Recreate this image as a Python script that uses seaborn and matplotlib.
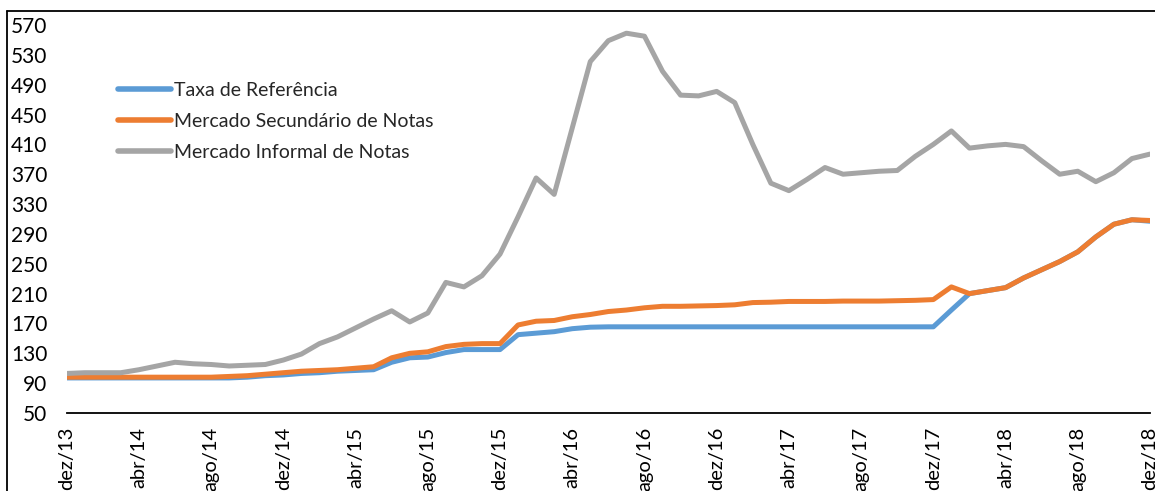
import numpy as np
import pandas as pd
import matplotlib
matplotlib.use("Agg")
import matplotlib.pyplot as plt
import seaborn as sns
from matplotlib.lines import Line2D

# ---- data (monthly, dez/13 .. dez/18) ----
months_pt = ["jan", "fev", "mar", "abr", "mai", "jun", "jul", "ago", "set", "out", "nov", "dez"]
periods = [f"{months_pt[(11 + i) % 12]}/{13 + (11 + i) // 12}" for i in range(61)]

taxa_referencia = [97, 97, 97, 97, 97, 97, 97, 97, 97, 97,
                   98, 100, 101, 103, 104, 106, 107, 108, 118, 124,
                   125, 131, 135, 135, 135, 155, 157, 159, 163, 165,
                   165.5, 165.5, 165.5, 165.5, 165.5, 165.5, 165.5, 165.5, 165.5, 165.5,
                   165.5, 165.5, 165.5, 165.5, 165.5, 165.5, 165.5, 165.5, 165.5, 188,
                   210, 214, 218, 231, 242, 253, 266, 286, 303, 309, 307]

mercado_secundario = [98, 98, 98, 98, 98, 98, 98, 98, 98, 99,
                      100, 102, 104, 106, 107, 108, 110, 112, 124, 130,
                      132, 139, 142, 143, 143, 168, 173, 174, 179, 182,
                      186, 188, 191, 193, 193, 193.5, 194, 195, 198, 198.5,
                      199.5, 199.5, 199.5, 200, 200, 200, 200.5, 201, 202, 219,
                      210, 214, 218, 231, 242, 253, 266, 286, 303, 309, 308]

mercado_informal = [103, 104, 104, 104, 108, 113, 118, 116, 115, 113,
                    114, 115, 121, 129, 143, 152, 164, 176, 187, 172,
                    184, 225, 219, 234, 263, 313, 365, 343, 432, 521,
                    549, 559, 555, 508, 476, 475, 481, 466, 410, 358,
                    348, 363, 379, 370, 372, 374, 375, 394, 410, 428,
                    405, 408, 410, 407, 388, 370, 374, 360, 372, 391, 397]

series_names = ["Taxa de Referência", "Mercado Secundário de Notas", "Mercado Informal de Notas"]
series_colors = ["#5B9BD5", "#ED7D31", "#A5A5A5"]

y_ticks = list(range(50, 571, 40))
x_tick_idx = list(range(0, 61, 4))

# ---- build long table ----
idx = np.arange(len(periods))
df = pd.concat([
    pd.DataFrame({"idx": idx, "valor": taxa_referencia, "serie": series_names[0]}),
    pd.DataFrame({"idx": idx, "valor": mercado_secundario, "serie": series_names[1]}),
    pd.DataFrame({"idx": idx, "valor": mercado_informal, "serie": series_names[2]}),
])

sns.set_style("white")
plt.rcParams["font.family"] = ["Lato", "DejaVu Sans"]

fig = plt.figure(figsize=(11.55, 4.91), dpi=100)
ax = fig.add_axes([66.7 / 1155, 1 - 413 / 491, (1150 - 66.7) / 1155, (413 - 25) / 491])

sns.lineplot(data=df, x="idx", y="valor", hue="serie", hue_order=series_names,
             palette=series_colors, linewidth=3.6, ax=ax, legend=False,
             solid_capstyle="round", solid_joinstyle="round")

ax.set_xlim(0, 60)
ax.set_ylim(50, 570)
ax.set_yticks(y_ticks)
ax.set_yticklabels([str(v) for v in y_ticks], fontsize=15)
ax.set_xticks(x_tick_idx)
ax.set_xticklabels([periods[i] for i in x_tick_idx], rotation=90, fontsize=14.5)
ax.tick_params(axis="both", length=0, colors="black")
ax.tick_params(axis="x", pad=10)
ax.tick_params(axis="y", pad=14)
ax.set_xlabel("")
ax.set_ylabel("")
for s in ["top", "right", "left"]:
    ax.spines[s].set_visible(False)
ax.spines["bottom"].set_color("black")
ax.spines["bottom"].set_linewidth(1.3)
ax.grid(False)

handles = [Line2D([0], [0], color=c, lw=4, solid_capstyle="round") for c in series_colors]
leg = ax.legend(handles, series_names, loc="upper left",
                bbox_to_anchor=((118 - 66.7) / 1083.3, (413 - 81.5) / 388),
                frameon=False, fontsize=14, handlelength=2.75, handletextpad=0.15,
                labelspacing=0.74, borderaxespad=0, borderpad=0)

# outer chart border (cropped)
fig.add_artist(Line2D([7 / 1155, 7 / 1155], [0, 1 - 11 / 491], color="black", lw=1.3,
                      transform=fig.transFigure))
fig.add_artist(Line2D([7 / 1155, 1], [1 - 11 / 491, 1 - 11 / 491], color="black", lw=1.3,
                      transform=fig.transFigure))

fig.savefig("out.png", dpi=100)
